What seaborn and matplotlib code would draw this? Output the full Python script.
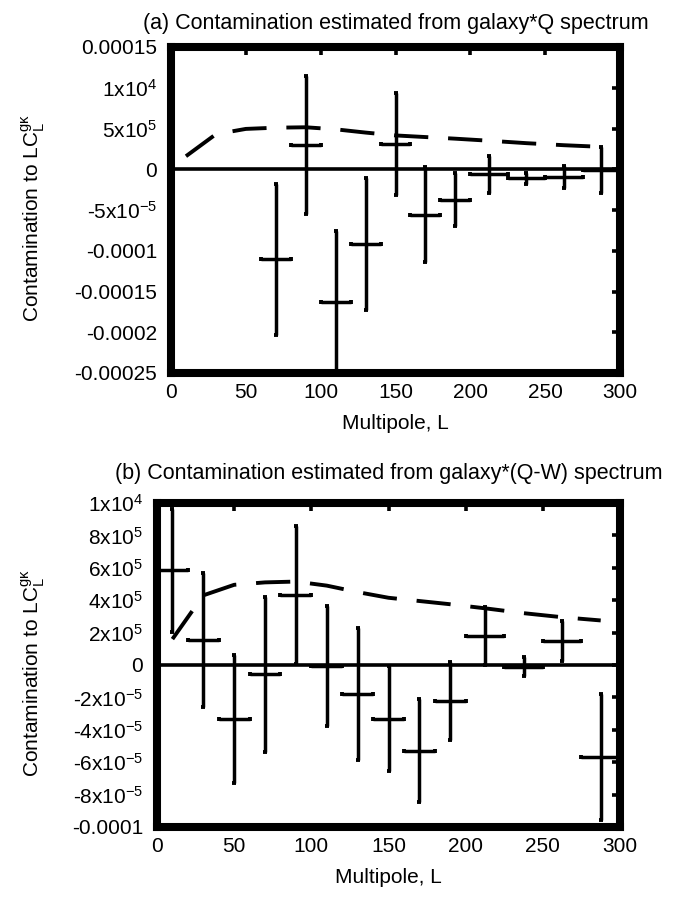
import numpy as np
import pandas as pd
import matplotlib
matplotlib.use("Agg")
import matplotlib.pyplot as plt
import seaborn as sns

# ---------------- data (values in units of 1e-5) ----------------
L_curve = [10, 30, 50, 70, 90, 110, 130, 150, 170, 190, 212.5, 237.5, 262.5, 287.5]
curve_e5 = [1.6, 4.3, 4.95, 5.1, 5.15, 4.9, 4.5, 4.15, 3.95, 3.75, 3.5, 3.2, 2.95, 2.75]

L_a = [70, 90, 110, 130, 150, 170, 190, 212.5, 237.5, 262.5, 287.5]
val_a_e5 = [-11.07, 2.98, -16.24, -9.17, 3.1, -5.58, -3.72, -0.62, -1.1, -0.95, -0.1]
yerr_a_e5 = [9.3, 8.47, 8.7, 8.1, 6.3, 5.8, 3.2, 2.3, 0.7, 1.3, 2.8]
xerr_a = [10, 10, 10, 10, 10, 10, 10, 12.5, 12.5, 12.5, 12.5]

L_b = [10, 30, 50, 70, 90, 110, 130, 150, 170, 190, 212.5, 237.5, 262.5, 287.5]
val_b_e5 = [5.86, 1.53, -3.32, -0.58, 4.31, -0.06, -1.77, -3.32, -5.28, -2.23, 1.79, -0.1, 1.48, -5.69]
yerr_b_e5 = [3.8, 4.12, 3.94, 4.8, 4.25, 3.7, 4.07, 3.25, 3.2, 2.4, 1.8, 0.57, 1.26, 3.9]
xerr_b = [10, 10, 10, 10, 10, 10, 10, 10, 10, 10, 12.5, 12.5, 12.5, 12.5]

x_ticks = [0, 50, 100, 150, 200, 250, 300]
yticks_a = [1.5e-4, 1e-4, 5e-5, 0, -5e-5, -1e-4, -1.5e-4, -2e-4, -2.5e-4]
yticklabels_a = ["0.00015", "1x10$^{4}$", "5x10$^{5}$", "0", "-5x10$^{-5}$",
                 "-0.0001", "-0.00015", "-0.0002", "-0.00025"]
yticks_b = [1e-4, 8e-5, 6e-5, 4e-5, 2e-5, 0, -2e-5, -4e-5, -6e-5, -8e-5, -1e-4]
yticklabels_b = ["1x10$^{4}$", "8x10$^{5}$", "6x10$^{5}$", "4x10$^{5}$", "2x10$^{5}$", "0",
                 "-2x10$^{-5}$", "-4x10$^{-5}$", "-6x10$^{-5}$", "-8x10$^{-5}$", "-0.0001"]

title_a = "(a) Contamination estimated from galaxy*Q spectrum"
title_b = "(b) Contamination estimated from galaxy*(Q-W) spectrum"
xlabel = "Multipole, L"
ylabel = "Contamination to LC$_{L}^{g\u03ba}$"

# ---------------- style ----------------
sns.set_theme(style="white")
plt.rcParams["font.family"] = ["Liberation Sans", "DejaVu Sans"]
plt.rcParams["mathtext.fontset"] = "custom"
plt.rcParams["mathtext.rm"] = "Liberation Sans"
plt.rcParams["mathtext.it"] = "Liberation Sans"
plt.rcParams["mathtext.bf"] = "Liberation Sans"
plt.rcParams["mathtext.default"] = "regular"

FS = 15
FS_T = 15.5
W, H = 694, 899
fig = plt.figure(figsize=(W / 100, H / 100), dpi=100)

rect_a = [171 / W, 1 - 373 / H, (620 - 171) / W, (373 - 47) / H]
rect_b = [157 / W, 1 - 827 / H, (620 - 157) / W, (827 - 503) / H]
ax_a = fig.add_axes(rect_a)
ax_b = fig.add_axes(rect_b)

curve_df = pd.DataFrame({"L": L_curve, "v": np.array(curve_e5) * 1e-5})


def draw(ax, L, vals, yerr, xerr, ylim, yticks, yticklabels, title, tpad):
    ax.axhline(0, color="black", lw=2.6, zorder=2)
    sns.lineplot(data=curve_df, x="L", y="v", ax=ax, color="black", lw=2.8, zorder=3)
    for ln in ax.get_lines()[1:]:
        ln.set_dashes((8.8, 5.1))
        ln.set_dash_capstyle("butt")
    ax.errorbar(L, np.array(vals) * 1e-5, yerr=np.array(yerr) * 1e-5, xerr=xerr,
                fmt="none", ecolor="black", elinewidth=2.5, capsize=1.4, capthick=2.8,
                zorder=4)
    ax.set_xlim(0, 300)
    ax.set_ylim(*ylim)
    ax.set_xticks(x_ticks)
    ax.set_xticklabels([str(t) for t in x_ticks], fontsize=FS)
    ax.set_yticks(yticks)
    ax.set_yticklabels(yticklabels, fontsize=FS)
    ax.tick_params(axis="both", direction="in", length=5.5, width=2.6, color="black",
                   top=True, right=True, labelcolor="black")
    ax.tick_params(axis="x", pad=7.5)
    ax.tick_params(axis="y", pad=10)
    for s in ax.spines.values():
        s.set_linewidth(5.8)
        s.set_color("black")
        s.set_capstyle("projecting")
        s.set_zorder(5)
    ax.set_xlabel(xlabel, fontsize=FS, color="black", labelpad=8)
    ax.set_ylabel(ylabel, fontsize=FS, color="black")
    ax.set_title(title, fontsize=FS_T, color="black", pad=tpad)
    ax.grid(False)


draw(ax_a, L_a, val_a_e5, yerr_a_e5, xerr_a, (-2.5e-4, 1.5e-4), yticks_a, yticklabels_a, title_a, 13)
draw(ax_b, L_b, val_b_e5, yerr_b_e5, xerr_b, (-1e-4, 1e-4), yticks_b, yticklabels_b, title_b, 17)

for ax, rect in ((ax_a, rect_a), (ax_b, rect_b)):
    yc = rect[1] + rect[3] / 2 - 8 / H
    ax.yaxis.set_label_coords(19 / W, yc, transform=fig.transFigure)
    ax.yaxis.label.set_va("top")

fig.savefig("out.png", dpi=100, facecolor="white")
